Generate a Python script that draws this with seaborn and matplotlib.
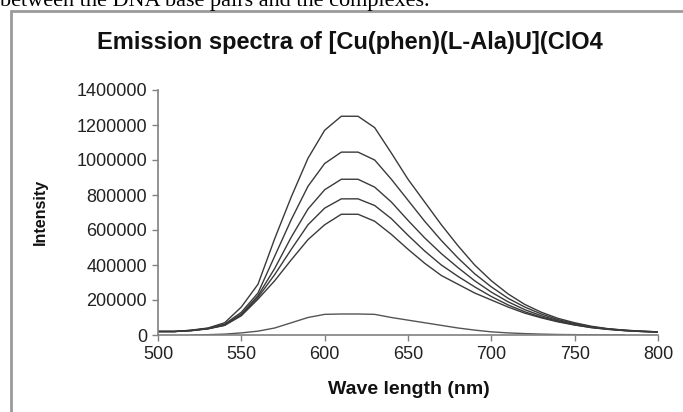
import numpy as np
import pandas as pd
import matplotlib
matplotlib.use("Agg")
import matplotlib.pyplot as plt
import seaborn as sns
from matplotlib.patches import Rectangle
from matplotlib.ticker import FuncFormatter

# wavelengths (nm) and emission intensities
wavelength = [500, 510, 520, 530, 540, 550, 560, 570, 580, 590, 600, 610, 620,
              630, 640, 650, 660, 670, 680, 690, 700, 710, 720, 730, 740, 750,
              760, 770, 780, 790, 800]

curve_1 = [20000, 20000, 28000, 40000, 70000, 160000, 290000, 550000, 790000,
           1010000, 1170000, 1250000, 1250000, 1185000, 1040000, 890000, 760000,
           630000, 510000, 400000, 310000, 235000, 175000, 130000, 95000, 70000,
           50000, 36000, 28000, 22000, 18000]
curve_2 = [20000, 20000, 26000, 38000, 62000, 130000, 240000, 450000, 660000,
           850000, 980000, 1045000, 1045000, 1000000, 890000, 770000, 650000,
           540000, 440000, 350000, 275000, 210000, 160000, 120000, 88000, 65000,
           47000, 35000, 27000, 21000, 18000]
curve_3 = [20000, 20000, 26000, 37000, 58000, 120000, 225000, 380000, 560000,
           720000, 830000, 890000, 890000, 845000, 760000, 655000, 555000,
           465000, 385000, 310000, 245000, 190000, 145000, 110000, 82000, 61000,
           45000, 34000, 26000, 21000, 18000]
curve_4 = [20000, 20000, 25000, 36000, 56000, 115000, 215000, 345000, 490000,
           630000, 725000, 778000, 778000, 740000, 665000, 570000, 480000,
           400000, 335000, 275000, 220000, 172000, 133000, 102000, 78000, 58000,
           43000, 33000, 25000, 20000, 17000]
curve_5 = [20000, 20000, 25000, 35000, 55000, 110000, 205000, 310000, 430000,
           545000, 630000, 690000, 690000, 650000, 575000, 490000, 410000,
           340000, 290000, 240000, 200000, 160000, 125000, 98000, 75000, 57000,
           42000, 32000, 25000, 20000, 17000]

wavelength_free = [520, 530, 540, 550, 560, 570, 580, 590, 600, 610, 620, 630,
                   640, 650, 660, 670, 680, 690, 700, 710, 720, 730, 740, 750,
                   760, 770, 780]
curve_free = [0, 2000, 5000, 12000, 22000, 40000, 70000, 100000, 118000, 120000,
              120000, 118000, 100000, 85000, 70000, 55000, 40000, 28000, 18000,
              12000, 8000, 5000, 3000, 2000, 1000, 0, 0]

y_ticks = [0, 200000, 400000, 600000, 800000, 1000000, 1200000, 1400000]
x_ticks = [500, 550, 600, 650, 700, 750, 800]

sns.set_style("ticks")
plt.rcParams['font.family'] = ['Liberation Sans', 'DejaVu Sans']

W, H = 683, 412
fig = plt.figure(figsize=(W / 100, H / 100), dpi=100)
ax = fig.add_axes([158 / W, 1 - 335 / H, 500 / W, 245 / H])

line_col = '#3a3a3a'
for vals in [curve_1, curve_2, curve_3, curve_4, curve_5]:
    sns.lineplot(x=wavelength, y=vals, color=line_col, linewidth=1.0, ax=ax)
sns.lineplot(x=wavelength_free, y=curve_free, color='#555555', linewidth=1.0, ax=ax)

ax.set_xlim(500, 800)
ax.set_ylim(0, 1400000)
ax.set_xticks(x_ticks)
ax.set_yticks(y_ticks)
ax.yaxis.set_major_formatter(FuncFormatter(lambda v, p: f"{int(v)}"))
ax.tick_params(axis='both', length=4, width=1, color='#808080',
               labelsize=13, labelcolor='#222222', pad=4)
for s in ['top', 'right']:
    ax.spines[s].set_visible(False)
for s in ['left', 'bottom']:
    ax.spines[s].set_color('#808080')
    ax.spines[s].set_linewidth(1.2)
ax.set_xlabel('')
ax.set_ylabel('')

fig.text(350 / W, 1 - 43 / H, 'Emission spectra of [Cu(phen)(L-Ala)U](ClO4',
         ha='center', va='center', fontsize=17, fontweight='bold', color='#111111')
fig.text(409 / W, 1 - 390 / H, 'Wave length (nm)', ha='center', va='center',
         fontsize=14, fontweight='bold', color='#111111')
fig.text(40 / W, 1 - 212 / H, 'Intensity', ha='center', va='center',
         rotation=90, fontsize=11.5, fontweight='bold', color='#111111')

# document text cut off above the chart frame
fig.text(0, 1 - 6 / H, 'between the DNA base pairs and the complexes.',
         ha='left', va='baseline', fontsize=16, family='Liberation Serif', color='black')

# chart frame
fig.add_artist(Rectangle((11 / W, -0.1), 1.2, 1.1 - 11 / H, transform=fig.transFigure,
                         fill=False, edgecolor='#9a9a9a', linewidth=2))

fig.savefig('out.png', dpi=100)
